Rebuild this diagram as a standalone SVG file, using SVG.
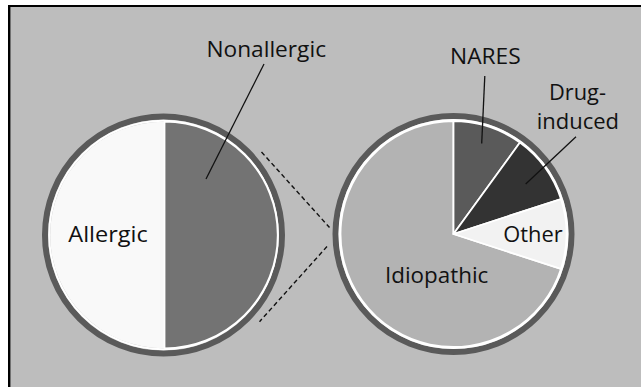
<svg xmlns="http://www.w3.org/2000/svg" width="641" height="387" viewBox="0 0 641 387">
<style>
.lbl{font-family:"Open Sans","Liberation Sans",sans-serif;font-size:22px;fill:#111}
.ring{fill:none;stroke:#5a5a5a;stroke-width:6}
.inner{fill:none;stroke:#ffffff;stroke-width:2}
.sl{stroke:#ffffff;stroke-width:1.8;stroke-linejoin:round}
.lead{stroke:#111;stroke-width:1.3;fill:none}
.dash{stroke:#111;stroke-width:1.4;fill:none;stroke-dasharray:4.5 3}
</style>
<rect x="0" y="0" width="641" height="387" fill="#ffffff"/>
<rect x="8" y="5" width="633" height="382" fill="#bdbdbd"/>
<line x1="9.2" y1="5" x2="9.2" y2="387" stroke="#000" stroke-width="2.4"/>
<line x1="8" y1="6" x2="641" y2="6" stroke="#000" stroke-width="2"/>

<g id="pie-left">
<circle cx="163.5" cy="235" r="118.5" class="ring"/>
<circle cx="163.5" cy="235" r="114.3" class="inner"/>
<circle cx="163.5" cy="235" r="113.3" fill="#f9f9f9"/>
<path d="M164.5,121.7 A113.3,113.3 0 0 1 164.5,348.3 Z" fill="#737373" class="sl"/>
</g>

<g id="pie-right">
<circle cx="453.5" cy="234" r="118" class="ring"/>
<circle cx="453.5" cy="234" r="114" class="inner"/>
<circle cx="453.5" cy="234" r="113" fill="#b3b3b3"/>
<path id="s-idio" d="M453.5,234 L560.97,268.92 A113,113 0 1 1 453.5,121 Z" fill="#b3b3b3" class="sl"/>
<path id="s-nares" d="M453.5,234 L453.5,121 A113,113 0 0 1 519.92,142.58 Z" fill="#5a5a5a" class="sl"/>
<path id="s-drug" d="M453.5,234 L519.92,142.58 A113,113 0 0 1 560.97,199.08 Z" fill="#333333" class="sl"/>
<path id="s-other" d="M453.5,234 L560.97,199.08 A113,113 0 0 1 560.97,268.92 Z" fill="#f2f2f2" class="sl"/>
</g>

<g id="connectors">
<line class="lead" x1="264" y1="64" x2="206" y2="179"/>
<line class="lead" x1="484.8" y1="76" x2="481.7" y2="143.5"/>
<line class="lead" x1="576" y1="136.7" x2="525.7" y2="184"/>
<line class="dash" x1="261.5" y1="152" x2="329.5" y2="227.5"/>
<line class="dash" x1="327" y1="246.5" x2="259.5" y2="321.7"/>
</g>

<g id="labels">
<text class="lbl" x="206.5" y="56.5" textLength="119.5" lengthAdjust="spacingAndGlyphs">Nonallergic</text>
<text class="lbl" x="450" y="64" textLength="70.7" lengthAdjust="spacingAndGlyphs">NARES</text>
<text class="lbl" x="549" y="100" textLength="57" lengthAdjust="spacingAndGlyphs">Drug-</text>
<text class="lbl" x="536.7" y="129.3" textLength="82.3" lengthAdjust="spacingAndGlyphs">induced</text>
<text class="lbl" x="503.3" y="241.7" textLength="59.4" lengthAdjust="spacingAndGlyphs">Other</text>
<text class="lbl" x="385" y="282.7" textLength="103.3" lengthAdjust="spacingAndGlyphs">Idiopathic</text>
<text class="lbl" x="68.3" y="242.3" textLength="79.5" lengthAdjust="spacingAndGlyphs">Allergic</text>
</g>
</svg>
